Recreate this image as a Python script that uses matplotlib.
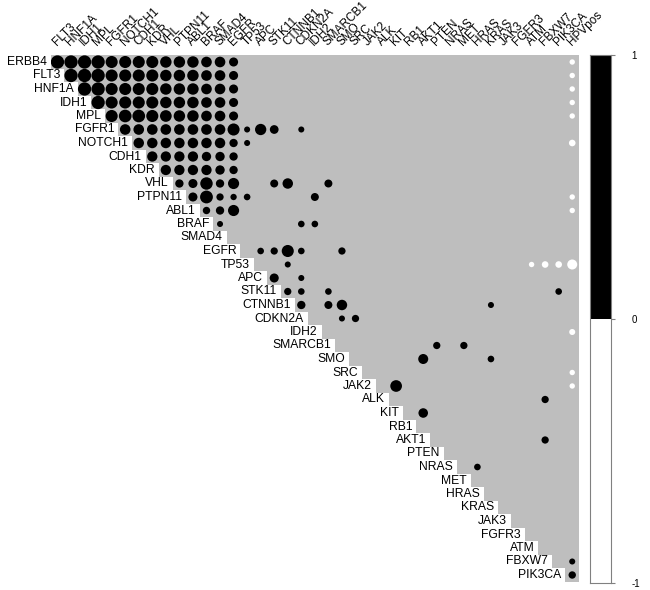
import matplotlib
matplotlib.use("Agg")
import matplotlib.pyplot as plt
import numpy as np

plt.rcParams['font.family'] = ['Liberation Sans', 'DejaVu Sans']

# all 40 variables, in matrix order
genes = ["ERBB4", "FLT3", "HNF1A", "IDH1", "MPL", "FGFR1", "NOTCH1", "CDH1",
         "KDR", "VHL", "PTPN11", "ABL1", "BRAF", "SMAD4", "EGFR", "TP53", "APC",
         "STK11", "CTNNB1", "CDKN2A", "IDH2", "SMARCB1", "SMO", "SRC", "JAK2",
         "ALK", "KIT", "RB1", "AKT1", "PTEN", "NRAS", "MET", "HRAS", "KRAS",
         "JAK3", "FGFR3", "ATM", "FBXW7", "PIK3CA", "HPVpos"]
row_labels = genes[:-1]
col_labels = genes[1:]

# dense corner: rows ERBB4..KDR against columns FLT3..EGFR (0 = nothing drawn)
block_rows = genes[0:9]
block_cols = genes[1:15]
block = [
    [.97, .97, .97, .97, .8, .8, .8, .8, .72, .72, .72, .62, .62, .45],
    [0, .97, .97, .97, .8, .8, .8, .8, .72, .72, .72, .62, .62, .45],
    [0, 0, .97, .97, .8, .8, .8, .8, .72, .72, .72, .62, .62, .45],
    [0, 0, 0, .97, .8, .8, .8, .8, .72, .72, .72, .62, .62, .45],
    [0, 0, 0, 0, .8, .88, .88, .8, .75, .72, .72, .62, .62, .45],
    [0, 0, 0, 0, 0, .62, .62, .62, .62, .62, .62, .62, .62, .8],
    [0, 0, 0, 0, 0, 0, .6, .6, .6, .6, .6, .6, .6, .38],
    [0, 0, 0, 0, 0, 0, 0, .58, .58, .58, .58, .48, .48, .38],
    [0, 0, 0, 0, 0, 0, 0, 0, .58, .58, .58, .58, .48, .38],
]

# remaining significant pairs
pair_a = ["FGFR1", "FGFR1", "FGFR1", "FGFR1", "NOTCH1",
          "VHL", "VHL", "VHL", "VHL", "VHL", "VHL", "VHL", "VHL",
          "PTPN11", "PTPN11", "PTPN11", "PTPN11", "PTPN11", "PTPN11",
          "ABL1", "ABL1", "ABL1", "BRAF", "BRAF", "BRAF",
          "EGFR", "EGFR", "EGFR", "EGFR", "EGFR",
          "TP53", "TP53", "TP53", "TP53", "TP53",
          "APC", "APC", "STK11", "STK11", "STK11", "STK11",
          "CTNNB1", "CTNNB1", "CTNNB1", "CTNNB1", "CDKN2A", "CDKN2A",
          "IDH2", "SMARCB1", "SMARCB1", "SMO", "SMO", "SRC", "JAK2", "JAK2",
          "ALK", "KIT", "AKT1", "NRAS", "FBXW7", "PIK3CA",
          "ERBB4", "FLT3", "HNF1A", "IDH1", "MPL", "NOTCH1", "PTPN11", "ABL1"]
pair_b = ["TP53", "APC", "STK11", "CDKN2A", "TP53",
          "PTPN11", "ABL1", "BRAF", "SMAD4", "EGFR", "STK11", "CTNNB1", "SMARCB1",
          "ABL1", "BRAF", "SMAD4", "EGFR", "TP53", "IDH2",
          "BRAF", "SMAD4", "EGFR", "SMAD4", "CDKN2A", "IDH2",
          "APC", "STK11", "CTNNB1", "CDKN2A", "SMO",
          "CTNNB1", "ATM", "FBXW7", "PIK3CA", "HPVpos",
          "STK11", "CDKN2A", "CTNNB1", "CDKN2A", "SMARCB1", "PIK3CA",
          "CDKN2A", "SMARCB1", "SMO", "KRAS", "SMO", "SRC",
          "HPVpos", "PTEN", "MET", "AKT1", "KRAS", "HPVpos", "KIT", "HPVpos",
          "FBXW7", "AKT1", "FBXW7", "HRAS", "HPVpos", "HPVpos",
          "HPVpos", "HPVpos", "HPVpos", "HPVpos", "HPVpos", "HPVpos", "HPVpos", "HPVpos"]
pair_r = [.2, .7, .42, .2, .2,
          .38, .45, .85, .38, .68, .35, .6, .35,
          .45, .9, .29, .22, .24, .35,
          .3, .38, .68, .2, .24, .24,
          .24, .29, .8, .24, .29,
          .2, -.16, -.24, -.24, -.55,
          .45, .2, .29, .24, .24, .24,
          .38, .35, .6, .2, .2, .29,
          -.2, .29, .29, .55, .24, -.16, .75, -.16,
          .29, .5, .29, .24, .2, .3,
          -.16, -.16, -.16, -.16, -.16, -.24, -.16, -.16]

# collect everything as (row, col, r)
rows, cols, vals = [], [], []
for i, g in enumerate(block_rows):
    for j, h in enumerate(block_cols):
        if block[i][j] != 0:
            rows.append(genes.index(g))
            cols.append(genes.index(h) - 1)
            vals.append(block[i][j])
for a, b, r in zip(pair_a, pair_b, pair_r):
    rows.append(genes.index(a))
    cols.append(genes.index(b) - 1)
    vals.append(r)
vals = np.array(vals)

fig = plt.figure(figsize=(6.5, 5.9), dpi=100)
ax = fig.add_axes([50.7 / 650, 1 - 581.75 / 590, 528.3 / 650, 526.5 / 590])
ax.set_xlim(-0.5, 38.5)
ax.set_ylim(38.5, -0.5)
ax.axis('off')

# grey upper triangle
n = len(row_labels)
ax.barh(np.arange(n), [n - i for i in range(n)], left=np.arange(n) - 0.5,
        height=1.0, color='#BEBEBE', linewidth=0)

# circles, diameter ~ sqrt(|r|) of a cell
cell_pt = 13.5 * 72 / 100
sizes = (cell_pt * np.sqrt(np.abs(vals))) ** 2
colors = ['black' if v > 0 else 'white' for v in vals]
ax.scatter(cols, rows, s=sizes, c=colors, linewidths=0, zorder=3)

for i, lab in enumerate(row_labels):
    ax.text(i - 0.8, i, lab, ha='right', va='center', fontsize=8.7)
for j, lab in enumerate(col_labels):
    ax.text(j - 0.05, -1.2, lab, ha='left', va='baseline', rotation=45,
            rotation_mode='anchor', fontsize=8.5)

# colour legend
cax = fig.add_axes([590 / 650, 1 - 582.7 / 590, 20.5 / 650, 527.7 / 590])
cax.bar([0, 0], [1, 1], bottom=[0, -1], width=1.0, color=['black', 'white'], linewidth=0)
cax.set_xlim(-0.5, 0.5)
cax.set_ylim(-1, 1)
cax.set_xticks([])
cax.yaxis.tick_right()
cax.set_yticks([-1, 0, 1])
cax.set_yticklabels(['-1', '0', '1'])
cax.tick_params(axis='y', length=3, width=0.8, color='#808080', pad=12, labelsize=7)
for sp in cax.spines.values():
    sp.set_color('#808080')
    sp.set_linewidth(0.8)

fig.savefig('out.png', dpi=100)
